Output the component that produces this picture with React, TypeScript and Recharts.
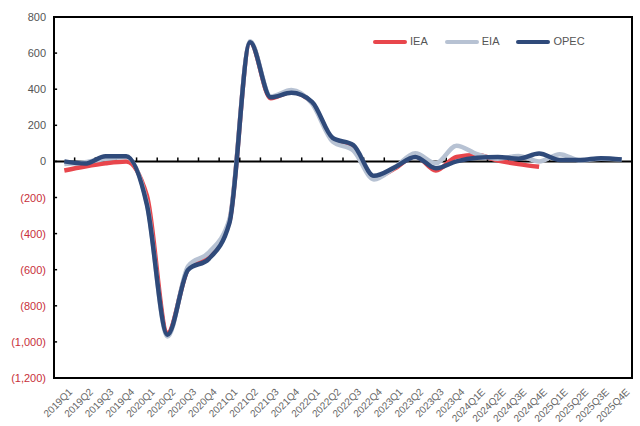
import React from 'react';
import {
  LineChart,
  Line,
  XAxis,
  YAxis,
  ReferenceLine,
  ReferenceArea
} from 'recharts';

// Quarterly supply/demand balance estimates (kb/d)
const quarters = [
  '2019Q1', '2019Q2', '2019Q3', '2019Q4',
  '2020Q1', '2020Q2', '2020Q3', '2020Q4',
  '2021Q1', '2021Q2', '2021Q3', '2021Q4',
  '2022Q1', '2022Q2', '2022Q3', '2022Q4',
  '2023Q1', '2023Q2', '2023Q3', '2023Q4',
  '2024Q1E', '2024Q2E', '2024Q3E', '2024Q4E',
  '2025Q1E', '2025Q2E', '2025Q3E', '2025Q4E'
];

const iea = [
  -50, -28, -10, 0, -190, -950, -595, -520, -330, 660, 350, 385, 325, 120,
  75, -90, -40, 30, -50, 25, 35, 5, -15, -30, null, null, null, null
];

const eia = [
  -15, -5, 15, 25, -230, -970, -580, -505, -320, 665, 360, 395, 320, 110,
  60, -100, -35, 45, -10, 87, 40, 15, 30, 0, 40, 5, 15, 10
];

const opec = [
  0, -12, 28, 28, -240, -960, -600, -540, -340, 660, 355, 380, 330, 130,
  90, -80, -33, 25, -38, 0, 20, 25, 15, 44, 8, 8, 18, 10
];

const yTicks = [800, 600, 400, 200, 0, -200, -400, -600, -800, -1000, -1200];

const series = [
  { key: 'IEA', values: iea, color: '#e8464c' },
  { key: 'EIA', values: eia, color: '#b7c2d3' },
  { key: 'OPEC', values: opec, color: '#2f4a7a' }
];

const data = quarters.map((q, i) => ({
  idx: i,
  quarter: q,
  IEA: iea[i],
  EIA: eia[i],
  OPEC: opec[i]
}));

const FONT = 'Arial, "Liberation Sans", Helvetica, sans-serif';

const YTick = ({ x, y, payload }: any) => {
  const v = payload.value as number;
  const label = v < 0 ? `(${Math.abs(v).toLocaleString('en-US')})` : String(v);
  return (
    <text x={x} y={y} dy={4} textAnchor="end" fontSize={11} fontFamily={FONT}
      fill={v < 0 ? '#c8303a' : '#555'}>
      {label}
    </text>
  );
};

const XTick = ({ x, y, payload }: any) => {
  const tx = x + 3;
  const ty = y + 1;
  return (
    <text x={tx} y={ty} dy={8} textAnchor="end" fontSize={10} fontFamily={FONT}
      fill="#666" transform={`rotate(-45 ${tx} ${ty})`}>
      {quarters[payload.value]}
    </text>
  );
};

const LegendBox = () => (
  <div style={{
    position: 'absolute', top: 35, left: 372, display: 'flex', alignItems: 'center',
    fontFamily: FONT, fontSize: 11, color: '#555', lineHeight: '13px'
  }}>
    {series.map(s => (
      <div key={s.key} style={{ display: 'flex', alignItems: 'center', marginRight: 16 }}>
        <svg width={36} height={6}>
          <line x1={3} y1={3} x2={33} y2={3} stroke={s.color} strokeWidth={4} strokeLinecap="round" />
        </svg>
        <span style={{ marginLeft: 2 }}>{s.key}</span>
      </div>
    ))}
  </div>
);

export default function App() {
  return (
    <div style={{ position: 'absolute', left: 0, top: 0, width: 640, height: 426, background: '#fff' }}>
      <LineChart width={640} height={426} data={data}
        margin={{ top: 17, right: 8, left: 8, bottom: 0 }}>
        <XAxis dataKey="idx" type="number" domain={[-0.5, 27.5]}
          ticks={quarters.map((_, i) => i)} interval={0}
          tick={<XTick />} tickLine={false} axisLine={false}
          height={48} tickMargin={2} />
        <YAxis type="number" domain={[-1200, 800]} ticks={yTicks} interval={0}
          width={46} tick={<YTick />} tickLine={false} axisLine={false} />
        <ReferenceArea x1={-0.5} x2={27.5} y1={-1200} y2={800}
          fill="none" stroke="#000" strokeWidth={2} />
        {yTicks.map(v => (
          <ReferenceLine key={`yt${v}`} segment={[{ x: -0.5, y: v }, { x: -0.35, y: v }]}
            stroke="#000" strokeWidth={1.5} />
        ))}
        <ReferenceLine y={0} stroke="#000" strokeWidth={2} />
        {quarters.slice(1).map((q, i) => (
          <ReferenceLine key={`xt${q}`} segment={[{ x: i + 0.5, y: 0 }, { x: i + 0.5, y: 22 }]}
            stroke="#000" strokeWidth={1.5} />
        ))}
        {series.map(s => (
          <Line key={s.key} dataKey={s.key} type="monotone" stroke={s.color}
            strokeWidth={4.5} dot={false} activeDot={false}
            isAnimationActive={false} connectNulls={false} />
        ))}
      </LineChart>
      <LegendBox />
    </div>
  );
}
